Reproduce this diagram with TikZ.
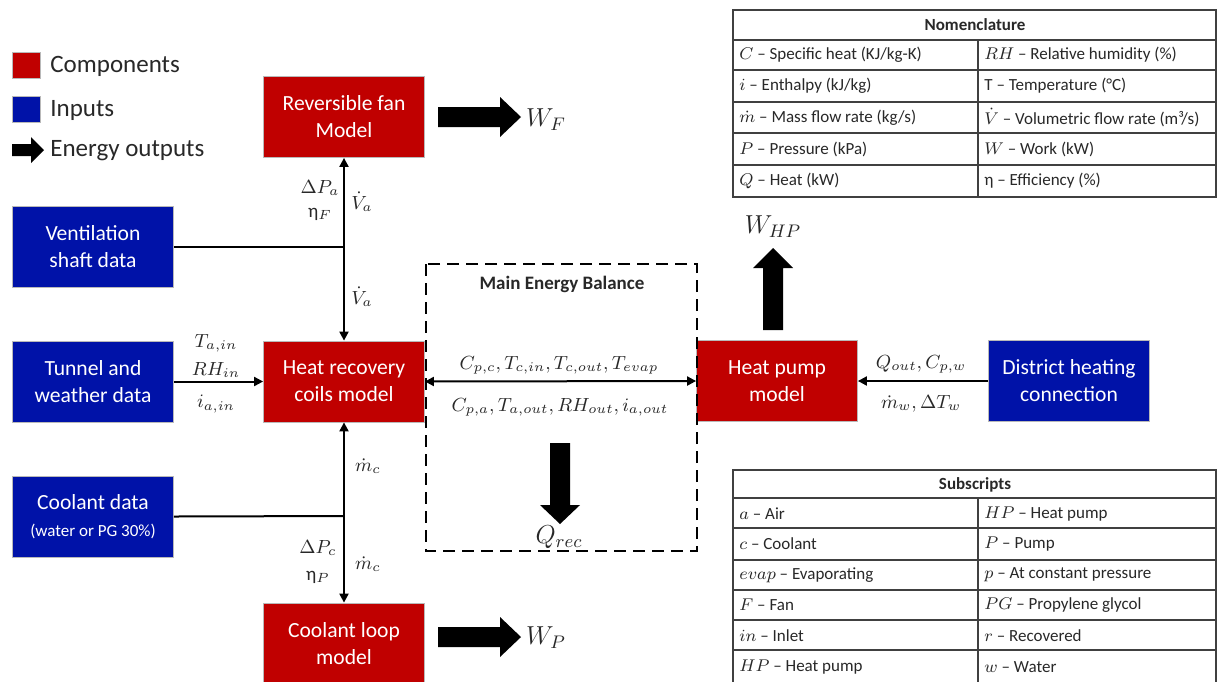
\RequirePackage{fix-cm}
\documentclass[tikz,border=0pt]{standalone}
\usepackage{fontspec}
\setmainfont{Carlito}
\usetikzlibrary{arrows.meta}
\definecolor{compred}{RGB}{192,0,0}
\definecolor{inblue}{RGB}{0,18,168}
\definecolor{txt}{RGB}{40,40,40}
\begin{document}
\begin{tikzpicture}[x=0.5pt,y=-0.5pt,
  box/.style={draw=gray!55, line width=0.4pt, minimum width=80.5pt, minimum height=40.5pt,
    inner sep=0pt, align=center, text=white, font=\fontsize{10.8}{13.5}\selectfont},
  comp/.style={box, fill=compred},
  inp/.style={box, fill=inblue},
  legsq/.style={draw=gray!55, line width=0.4pt, minimum width=14pt, minimum height=13pt, inner sep=0pt},
  legtxt/.style={anchor=west, inner sep=0pt, text=txt, font=\fontsize{12.5}{15}\selectfont},
  lab/.style={inner sep=0pt, text=txt, font=\fontsize{9.5}{11}\selectfont},
  biglab/.style={inner sep=0pt, text=txt, font=\fontsize{13}{15}\selectfont},
  arr/.style={line width=1pt, -{Triangle[length=4.5pt,width=4.5pt]}},
  darr/.style={line width=1pt, {Triangle[length=4.5pt,width=4.5pt]}-{Triangle[length=4.5pt,width=4.5pt]}},
  plain/.style={line width=1pt},
  bigarrow/.style={fill=black},
  tbl/.style={line width=0.8pt, draw=black!75},
  ttxt/.style={anchor=west, inner sep=0pt, text=txt, font=\fontsize{8.5}{10}\selectfont},
  thead/.style={inner sep=0pt, text=txt, font=\fontsize{8.5}{10}\selectfont\bfseries},
  dbox/.style={line width=1.3pt, dash pattern=on 6pt off 3.5pt}
]
\clip (0,0) rectangle (1218,681);
\fill[white] (0,0) rectangle (1218,681);

% legend
\node[legsq, fill=compred] (lr) at (26,65) {};
\node[legtxt] (lrt) at (50,66) {Components};
\node[legsq, fill=inblue] (lb) at (26,109) {};
\node[legtxt] (lbt) at (50,110) {Inputs};
\fill[bigarrow] (12,144) -- (31,144) -- (31,137) -- (44,150) -- (31,163) -- (31,156) -- (12,156) -- cycle;
\node[legtxt] (let) at (50,151) {Energy outputs};

% boxes
\node[comp] (fan) at (344,117) {Reversible fan\\Model};
\node[inp] (vent) at (93,247) {Ventilation\\shaft data};
\node[inp] (tun) at (93,381.5) {Tunnel and\\weather data};
\node[comp] (hr) at (344,381.5) {Heat recovery\\coils model};
\node[inp] (cool) at (93,516.5) {Coolant data\\{\fontsize{8.5}{10}\selectfont(water or PG 30\%)}};
\node[comp, minimum height=41pt] (loop) at (344,644) {Coolant loop\\model};
\node[comp] (hp) at (777,381) {Heat pump\\model};
\node[inp] (dh) at (1069,381) {District heating\\connection};

% connectors
\coordinate (j1) at (344,247);
\coordinate (j2) at (344,516);
\draw[plain] (vent.east) -- (j1);
\draw[darr] (hr.north) -- (fan.south);
\draw[plain] (cool.east) -- (j2);
\draw[darr] (hr.south) -- (loop.north);
\draw[arr] (tun.east) -- (hr.west);
\draw[darr] (hr.east) -- (hp.west);
\draw[arr] (dh.west) -- (hp.east);

% labels
\node[lab] (l1) at (320,188) {$\Delta P_a$};
\node[lab] (l2) at (320,214) {η$_F$};
\node[lab] (l3) at (362,202) {$\dot V_a$};
\node[lab] (l4) at (362,297) {$\dot V_a$};
\node[lab] (l5) at (216,343) {$T_{a,in}$};
\node[lab] (l6) at (216,370) {$RH_{in}$};
\node[lab] (l7) at (216,404) {$i_{a,in}$};
\node[lab] (l8) at (368,466) {$\dot m_c$};
\node[lab] (l9) at (318,548) {$\Delta P_c$};
\node[lab] (l10) at (318,577) {η$_P$};
\node[lab] (l11) at (368,564) {$\dot m_c$};
\node[lab] (l12) at (559,365) {$C_{p,c}, T_{c,in}, T_{c,out}, T_{evap}$};
\node[lab] (l13) at (560,407) {$C_{p,a}, T_{a,out}, RH_{out}, i_{a,out}$};
\node[lab] (l14) at (921,364) {$Q_{out}, C_{p,w}$};
\node[lab] (l15) at (921,404) {$\dot m_w, \Delta T_w$};

% main energy balance
\draw[dbox] (426,264) rectangle (697,551);
\node[inner sep=0pt, text=txt, font=\fontsize{9.5}{11}\selectfont\bfseries] (meb) at (562,284) {Main Energy Balance};

% energy output arrows
\fill[bigarrow] (438,107) -- (500,107) -- (500,97) -- (521,117) -- (500,137) -- (500,127) -- (438,127) -- cycle;
\node[biglab] (wf) at (546,120) {$W_F$};
\fill[bigarrow] (438,627) -- (500,627) -- (500,617) -- (521,637) -- (500,657) -- (500,647) -- (438,647) -- cycle;
\node[biglab] (wp) at (546,638) {$W_P$};
\fill[bigarrow] (550,443) -- (570,443) -- (570,505) -- (580,505) -- (560,524) -- (540,505) -- (550,505) -- cycle;
\node[biglab] (qr) at (559,537) {$Q_{rec}$};
\fill[bigarrow] (763,330) -- (763,268) -- (753,268) -- (773,248) -- (793,268) -- (783,268) -- (783,330) -- cycle;
\node[biglab] (whp) at (773,227) {$W_{HP}$};

% nomenclature table
\draw[tbl] (733,10) rectangle (1216,197);
\foreach \yy in {40,70,102,133,165} \draw[tbl] (733,\yy) -- (1216,\yy);
\draw[tbl] (978,40) -- (978,197);
\node[thead] (nh) at (975,25) {Nomenclature};
\node[ttxt] (n1) at (739,55) {$C$ – Specific heat (KJ/kg-K)};
\node[ttxt] (n2) at (739,86) {$i$ – Enthalpy (kJ/kg)};
\node[ttxt] (n3) at (739,117.5) {$\dot m$ – Mass flow rate (kg/s)};
\node[ttxt] (n4) at (739,149) {$P$ – Pressure (kPa)};
\node[ttxt] (n5) at (739,181) {$Q$ – Heat (kW)};
\node[ttxt] (n6) at (984,55) {$RH$ – Relative humidity (\%)};
\node[ttxt] (n7) at (984,86) {T – Temperature (°C)};
\node[ttxt] (n8) at (984,117.5) {$\dot V$ – Volumetric flow rate (m³/s)};
\node[ttxt] (n9) at (984,149) {$W$ – Work (kW)};
\node[ttxt] (n10) at (984,181) {η – Efficiency (\%)};

% subscripts table
\draw[tbl] (733,690) -- (733,470) -- (1216,470) -- (1216,690);
\foreach \yy in {498,528,560,590,620,650} \draw[tbl] (733,\yy) -- (1216,\yy);
\draw[tbl] (978,498) -- (978,690);
\node[thead] (sh) at (975,485) {Subscripts};
\node[ttxt] (s1) at (739,514) {$a$ – Air};
\node[ttxt] (s2) at (739,544) {$c$ – Coolant};
\node[ttxt] (s3) at (739,575) {$evap$ – Evaporating};
\node[ttxt] (s4) at (739,605) {$F$ – Fan};
\node[ttxt] (s5) at (739,636) {$in$ – Inlet};
\node[ttxt] (s6) at (739,667) {$HP$ – Heat pump};
\node[ttxt] (s7) at (984,514) {$HP$ – Heat pump};
\node[ttxt] (s8) at (984,544) {$P$ – Pump};
\node[ttxt] (s9) at (984,575) {$p$ – At constant pressure};
\node[ttxt] (s10) at (984,605) {$PG$ – Propylene glycol};
\node[ttxt] (s11) at (984,636) {$r$ – Recovered};
\node[ttxt] (s12) at (984,667) {$w$ – Water};
\end{tikzpicture}
\end{document}
